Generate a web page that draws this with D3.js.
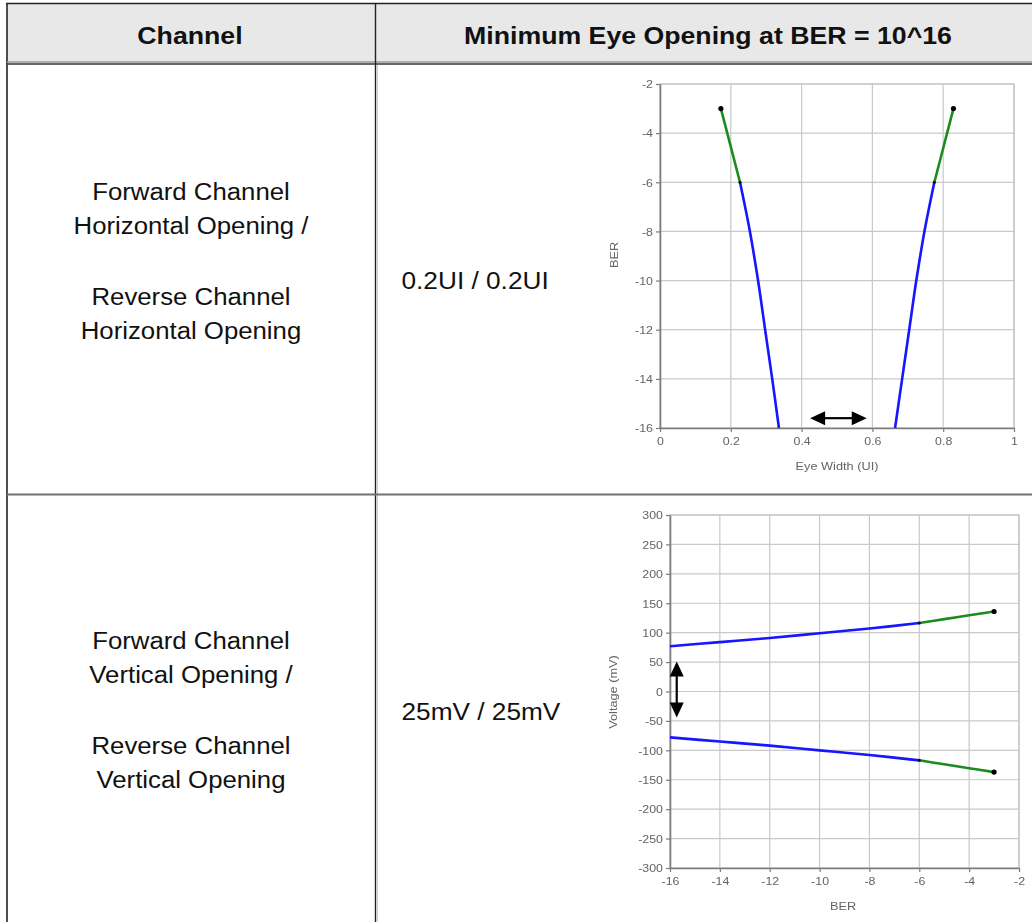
<!DOCTYPE html>
<html><head><meta charset="utf-8">
<script src="https://cdn.jsdelivr.net/npm/d3@7"></script>
<style>
html,body{margin:0;padding:0;background:#fff;}
svg{display:block;}
</style>
</head><body>
<svg id="page" width="1032" height="922"></svg>
<script>
// ---- Table content ----
const headerLabels = ["Channel", "Minimum Eye Opening at BER = 10^16"];
const rowChannelLines = [
  ["Forward Channel", "Horizontal Opening /", "", "Reverse Channel", "Horizontal Opening"],
  ["Forward Channel", "Vertical Opening /", "", "Reverse Channel", "Vertical Opening"]
];
const rowOpenings = ["0.2UI / 0.2UI", "25mV / 25mV"];

// ---- Horizontal bathtub: BER exponent vs eye edge position (UI) ----
const bathtubBer  = [-3, -4, -5, -6, -8, -10, -12, -14, -16];
const leftEdgeUI  = [0.172, 0.190, 0.208, 0.226, 0.254, 0.277, 0.297, 0.317, 0.336];
const rightEdgeUI = [0.829, 0.811, 0.793, 0.775, 0.747, 0.724, 0.704, 0.684, 0.664];
const eyeWidthTicks = [0, 0.2, 0.4, 0.6, 0.8, 1];
const berTicksH = [-2, -4, -6, -8, -10, -12, -14, -16];
const eyeWidthArrowUI = [0.424, 0.584];
const eyeWidthArrowBer = -15.6;

// ---- Vertical bathtub: eye edge voltage (mV) vs BER exponent ----
const contourBer  = [-16, -14, -12, -10, -8, -6, -5, -4, -3];
const upperEdgeMV = [77, 84, 91, 99, 107, 116.5, 123, 129.5, 136];
const lowerEdgeMV = [-78, -85, -92, -100, -108, -117, -123.7, -130.3, -137];
const berTicksV = [-16, -14, -12, -10, -8, -6, -4, -2];
const voltageTicks = [300, 250, 200, 150, 100, 50, 0, -50, -100, -150, -200, -250, -300];
const eyeHeightArrowBer = -15.73;
const eyeHeightArrowMV = [51, -44];

// Points at or above this BER exponent are drawn green, the rest blue
const zoneSplitBer = -6;

const BLUE = "#1414ff", GREEN = "#1f8a1f";
const svg = d3.select("#page");

// Widen rendered text horizontally by factor k
function stretch(sel, k) {
  sel.each(function () {
    const L = this.getComputedTextLength();
    if (L > 0) {
      this.setAttribute("textLength", L * k);
      this.setAttribute("lengthAdjust", "spacingAndGlyphs");
    }
  });
}

// ---------- Table ----------
const table = svg.append("g");
table.append("rect").attr("x", 7).attr("y", 3.5).attr("width", 1040).attr("height", 59)
  .attr("fill", "#e8e8e8");
table.append("line").attr("x1", 6).attr("x2", 1040).attr("y1", 3.5).attr("y2", 3.5)
  .attr("stroke", "#222").attr("stroke-width", 1.6);
table.append("line").attr("x1", 7).attr("x2", 7).attr("y1", 3).attr("y2", 922)
  .attr("stroke", "#222").attr("stroke-width", 1.6);
table.append("line").attr("x1", 7).attr("x2", 1040).attr("y1", 62).attr("y2", 62)
  .attr("stroke", "#9a9a9a").attr("stroke-width", 1.5);
table.append("line").attr("x1", 7).attr("x2", 1040).attr("y1", 64).attr("y2", 64)
  .attr("stroke", "#333").attr("stroke-width", 1.4);
table.append("line").attr("x1", 375.5).attr("x2", 375.5).attr("y1", 3).attr("y2", 922)
  .attr("stroke", "#222").attr("stroke-width", 1.4);
table.append("line").attr("x1", 377.5).attr("x2", 377.5).attr("y1", 65).attr("y2", 922)
  .attr("stroke", "#cfcfcf").attr("stroke-width", 1);
table.append("line").attr("x1", 7).attr("x2", 1040).attr("y1", 494.5).attr("y2", 494.5)
  .attr("stroke", "#707070").attr("stroke-width", 1.8);

const headerX = [190, 708];
table.selectAll("text.hdr").data(headerLabels).join("text")
  .attr("class", "hdr")
  .attr("x", (d, i) => headerX[i]).attr("y", 44)
  .attr("text-anchor", "middle")
  .attr("font-family", "Liberation Sans, Arial, sans-serif")
  .attr("font-weight", "bold").attr("font-size", 23).attr("fill", "#111")
  .text(d => d)
  .call(stretch, 1.16);

const rowTop = [200, 649];
const lineOffsets = [0, 33.5, 0, 105, 138.5];
rowChannelLines.forEach((lines, r) => {
  table.selectAll(null).data(lines.map((l, j) => ({ l, j })).filter(d => d.l !== ""))
    .join("text")
    .attr("x", 191)
    .attr("y", d => rowTop[r] + lineOffsets[d.j])
    .attr("text-anchor", "middle")
    .attr("font-family", "Liberation Sans, Arial, sans-serif")
    .attr("font-size", 23).attr("fill", "#111")
    .text(d => d.l)
    .call(stretch, 1.12);
});
const openingY = [288.5, 720];
table.selectAll("text.open").data(rowOpenings).join("text")
  .attr("class", "open")
  .attr("x", 401.5).attr("y", (d, i) => openingY[i])
  .attr("font-family", "Liberation Sans, Arial, sans-serif")
  .attr("font-size", 23).attr("fill", "#111")
  .text(d => d)
  .call(stretch, 1.14);

// ---------- Shared chart helpers ----------
const defs = svg.append("defs");
defs.append("filter").attr("id", "soft")
  .attr("x", "-5%").attr("y", "-5%").attr("width", "110%").attr("height", "110%")
  .append("feGaussianBlur").attr("stdDeviation", 0.45);

const CHART_FONT = "Liberation Sans, Arial, sans-serif";
const LABEL_COLOR = "#66626a";

function frame(g, x, y, xTicks, yTicks) {
  const [x0, x1] = x.range(), [y0, y1] = y.range();
  g.append("g").selectAll("line").data(xTicks).join("line")
    .attr("x1", d => x(d)).attr("x2", d => x(d)).attr("y1", y1).attr("y2", y0)
    .attr("stroke", "#c9c9c9").attr("stroke-width", 1.2);
  g.append("g").selectAll("line").data(yTicks).join("line")
    .attr("x1", x0).attr("x2", x1).attr("y1", d => y(d)).attr("y2", d => y(d))
    .attr("stroke", "#c9c9c9").attr("stroke-width", 1.2);
  g.append("rect").attr("x", x0).attr("y", y1).attr("width", x1 - x0).attr("height", y0 - y1)
    .attr("fill", "none").attr("stroke", "#c4c4c4").attr("stroke-width", 1.2);

  const fmt = d => String(d);  // plain hyphen-minus
  const ax = g.append("g").attr("transform", `translate(0,${y0})`)
    .call(d3.axisBottom(x).tickValues(xTicks).tickSize(4).tickSizeOuter(0).tickPadding(5).tickFormat(fmt));
  const ay = g.append("g").attr("transform", `translate(${x0},0)`)
    .call(d3.axisLeft(y).tickValues(yTicks).tickSize(4).tickSizeOuter(0).tickPadding(3).tickFormat(fmt));
  [ax, ay].forEach(a => {
    a.select(".domain").attr("stroke", "#7c7c7c").attr("stroke-width", 1.6);
    a.selectAll(".tick line").attr("stroke", "#7c7c7c").attr("stroke-width", 1.2);
    a.selectAll("text").attr("font-family", CHART_FONT).attr("font-size", 11.8)
      .attr("fill", LABEL_COLOR).call(stretch, 1.05);
  });
}

function axisTitle(g, text, x, y, rotate) {
  g.append("text")
    .attr("transform", `translate(${x},${y})` + (rotate ? " rotate(-90)" : ""))
    .attr("text-anchor", "middle").attr("dy", "0.35em")
    .attr("font-family", CHART_FONT).attr("font-size", 11.8).attr("fill", LABEL_COLOR)
    .text(text).call(stretch, 1.08);
}

function doubleArrow(g, p1, p2) {
  const dx = p2[0] - p1[0], dy = p2[1] - p1[1];
  const len = Math.hypot(dx, dy), ux = dx / len, uy = dy / len;
  const hl = 15, hw = 7;
  g.append("line")
    .attr("x1", p1[0] + ux * (hl - 2)).attr("y1", p1[1] + uy * (hl - 2))
    .attr("x2", p2[0] - ux * (hl - 2)).attr("y2", p2[1] - uy * (hl - 2))
    .attr("stroke", "#000").attr("stroke-width", 2.2);
  const head = (tip, sgn) => {
    const bx = tip[0] + sgn * ux * hl, by = tip[1] + sgn * uy * hl;
    return [[tip[0], tip[1]], [bx - uy * hw, by + ux * hw], [bx + uy * hw, by - ux * hw]];
  };
  g.selectAll(null).data([head(p1, 1), head(p2, -1)]).join("polygon")
    .attr("points", d => d.map(p => p.join(",")).join(" ")).attr("fill", "#000");
}

// ---------- Horizontal bathtub chart ----------
{
  const g = svg.append("g").attr("filter", "url(#soft)");
  const x = d3.scaleLinear().domain([0, 1]).range([660, 1014]);
  const y = d3.scaleLinear().domain([-16, -2]).range([428, 84]);
  frame(g, x, y, eyeWidthTicks, berTicksH);
  axisTitle(g, "BER", 614, 255, true);
  axisTitle(g, "Eye Width (UI)", 837, 466, false);

  const line = d3.line().x(d => x(d.ui)).y(d => y(d.ber)).curve(d3.curveCatmullRom);
  [leftEdgeUI, rightEdgeUI].forEach(edge => {
    const pts = bathtubBer.map((b, i) => ({ ber: b, ui: edge[i] }));
    g.append("path").datum(pts.filter(p => p.ber <= zoneSplitBer))
      .attr("d", line).attr("fill", "none").attr("stroke", BLUE).attr("stroke-width", 2.6);
    g.append("path").datum(pts.filter(p => p.ber >= zoneSplitBer))
      .attr("d", line).attr("fill", "none").attr("stroke", GREEN).attr("stroke-width", 2.6);
    const top = pts[0], split = pts.find(p => p.ber === zoneSplitBer);
    g.append("circle").attr("cx", x(top.ui)).attr("cy", y(top.ber)).attr("r", 2.6).attr("fill", "#000");
    g.append("circle").attr("cx", x(split.ui)).attr("cy", y(split.ber)).attr("r", 1.5).attr("fill", "#111");
  });
  doubleArrow(g, [x(eyeWidthArrowUI[0]), y(eyeWidthArrowBer)], [x(eyeWidthArrowUI[1]), y(eyeWidthArrowBer)]);
}

// ---------- Vertical bathtub chart ----------
{
  const g = svg.append("g").attr("filter", "url(#soft)");
  const x = d3.scaleLinear().domain([-16, -2]).range([670, 1019]);
  const y = d3.scaleLinear().domain([-300, 300]).range([868, 515]);
  frame(g, x, y, berTicksV, voltageTicks);
  axisTitle(g, "Voltage (mV)", 613, 692, true);
  axisTitle(g, "BER", 843, 906, false);

  const line = d3.line().x(d => x(d.ber)).y(d => y(d.mv)).curve(d3.curveCatmullRom);
  [upperEdgeMV, lowerEdgeMV].forEach(edge => {
    const pts = contourBer.map((b, i) => ({ ber: b, mv: edge[i] }));
    g.append("path").datum(pts.filter(p => p.ber <= zoneSplitBer))
      .attr("d", line).attr("fill", "none").attr("stroke", BLUE).attr("stroke-width", 2.6);
    g.append("path").datum(pts.filter(p => p.ber >= zoneSplitBer))
      .attr("d", line).attr("fill", "none").attr("stroke", GREEN).attr("stroke-width", 2.6);
    const end = pts[pts.length - 1], split = pts.find(p => p.ber === zoneSplitBer);
    g.append("circle").attr("cx", x(end.ber)).attr("cy", y(end.mv)).attr("r", 2.6).attr("fill", "#000");
    g.append("circle").attr("cx", x(split.ber)).attr("cy", y(split.mv)).attr("r", 1.5).attr("fill", "#111");
  });
  doubleArrow(g, [x(eyeHeightArrowBer), y(eyeHeightArrowMV[0])], [x(eyeHeightArrowBer), y(eyeHeightArrowMV[1])]);
}
</script>
</body></html>
